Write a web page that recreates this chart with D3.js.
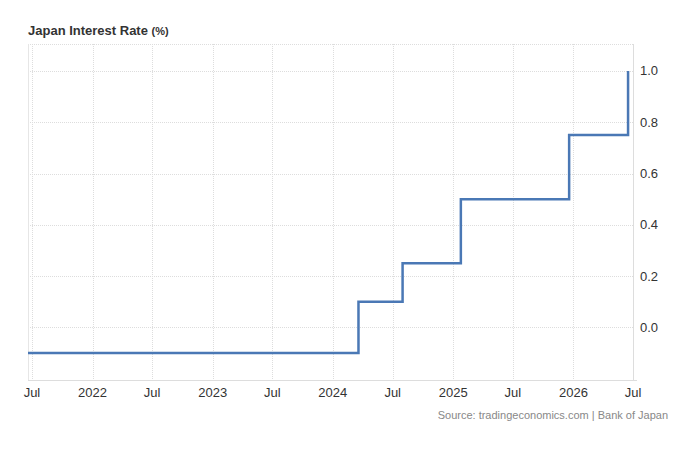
<!DOCTYPE html>
<html>
<head>
<meta charset="utf-8">
<script src="https://cdn.jsdelivr.net/npm/d3@7"></script>
<style>
  body { margin: 0; background: #fff; font-family: "Liberation Sans", Arial, sans-serif; }
</style>
</head>
<body>
<div id="viz"></div>
<script>
// dates when the rate changed and the rate that applies from each date
var changeDates = ["2021-06-19", "2024-03-19", "2024-07-31", "2025-01-24", "2025-12-19", "2026-06-16"];
var rates = [-0.1, 0.1, 0.25, 0.5, 0.75, 1.0];
var yTicks = [0.0, 0.2, 0.4, 0.6, 0.8, 1.0];
var xTicks = ["2021-07-01", "2022-01-01", "2022-07-01", "2023-01-01", "2023-07-01", "2024-01-01",
              "2024-07-01", "2025-01-01", "2025-07-01", "2026-01-01", "2026-07-01"];

var width = 680, height = 465;
var pLeft = 28, pRight = 633, pTop = 44, pBottom = 380;
var parse = d3.timeParse("%Y-%m-%d");

var data = changeDates.map(function (d, i) { return { date: parse(d), value: rates[i] }; });

var x = d3.scaleTime()
  .domain([parse("2021-06-19"), parse("2026-07-01")])
  .range([pLeft, pRight]);
var y = d3.scaleLinear()
  .domain([-0.205, 1.105])
  .range([pBottom, pTop]);

var svg = d3.select("#viz").append("svg")
  .attr("width", width)
  .attr("height", height);

// title
var title = svg.append("text")
  .attr("x", 28).attr("y", 35)
  .attr("fill", "#333")
  .style("font-weight", "bold")
  .style("font-size", "13px");
title.append("tspan").text("Japan Interest Rate ");
title.append("tspan").style("font-size", "11px").text("(%)");

// grid
svg.append("g").selectAll("line").data(yTicks.concat([1.105])).enter().append("line")
  .attr("x1", pLeft).attr("x2", pRight)
  .attr("y1", function (d) { return Math.round(y(d)) + 0.5; })
  .attr("y2", function (d) { return Math.round(y(d)) + 0.5; })
  .attr("stroke", "#ddd").attr("stroke-dasharray", "1,1");

svg.append("g").selectAll("line").data(xTicks.slice(0, 10)).enter().append("line")
  .attr("x1", function (d) { return Math.round(x(parse(d))) + 0.5; })
  .attr("x2", function (d) { return Math.round(x(parse(d))) + 0.5; })
  .attr("y1", pTop).attr("y2", pBottom)
  .attr("stroke", "#ddd").attr("stroke-dasharray", "1,1");

// frame lines
svg.append("line").attr("x1", pLeft + 0.5).attr("x2", pLeft + 0.5).attr("y1", pTop).attr("y2", pBottom)
  .attr("stroke", "#e6e6e6");
svg.append("line").attr("x1", pRight + 0.5).attr("x2", pRight + 0.5).attr("y1", pTop).attr("y2", pBottom)
  .attr("stroke", "#ddd");
svg.append("line").attr("x1", pLeft).attr("x2", pRight + 4).attr("y1", pBottom + 0.5).attr("y2", pBottom + 0.5)
  .attr("stroke", "#ddd");

// y labels
svg.append("g").selectAll("text").data(yTicks).enter().append("text")
  .attr("x", 640)
  .attr("y", function (d) { return y(d) + 4.5; })
  .attr("fill", "#333")
  .style("font-size", "13px")
  .text(function (d) { return d.toFixed(1); });

// x labels
var fmt = function (d) { return d.getMonth() === 0 ? d3.timeFormat("%Y")(d) : d3.timeFormat("%b")(d); };
svg.append("g").selectAll("text").data(xTicks).enter().append("text")
  .attr("x", function (d) { return x(parse(d)); })
  .attr("y", 397)
  .attr("text-anchor", "middle")
  .attr("fill", "#333")
  .style("font-size", "13px")
  .text(function (d) { return fmt(parse(d)); });

// step line
var line = d3.line()
  .x(function (d) { return x(d.date); })
  .y(function (d) { return y(d.value); })
  .curve(d3.curveStepAfter);

svg.append("path")
  .datum(data)
  .attr("d", line)
  .attr("fill", "none")
  .attr("stroke", "#4a78b5")
  .attr("stroke-width", 2.5);

// source
svg.append("text")
  .attr("x", 668).attr("y", 419)
  .attr("text-anchor", "end")
  .attr("fill", "#888")
  .style("font-size", "11px")
  .text("Source: tradingeconomics.com | Bank of Japan");
</script>
</body>
</html>
